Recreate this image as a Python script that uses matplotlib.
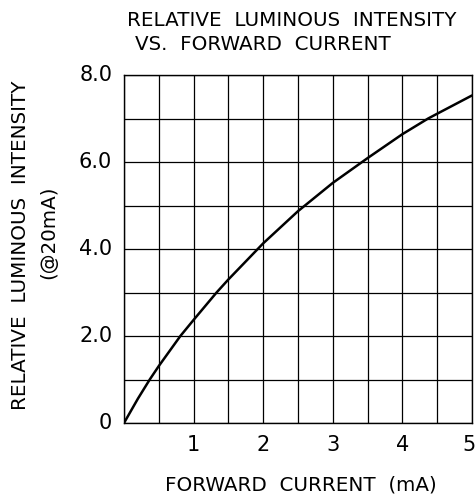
import matplotlib
matplotlib.use("Agg")
import matplotlib.pyplot as plt
import numpy as np

# data
current_mA = [0, 0.2, 0.37, 0.5, 0.81, 1.0, 1.33, 1.5, 2.0, 2.5, 3.0, 3.5, 4.0, 4.37, 4.5, 5.0]
rel_intensity = [0, 0.56, 1.0, 1.31, 2.0, 2.37, 3.0, 3.30, 4.13, 4.87, 5.52, 6.09, 6.64, 7.0, 7.11, 7.53]

x_ticks = [1, 2, 3, 4, 5]
x_tick_labels = ["1", "2", "3", "4", "5"]
y_ticks = [0, 2, 4, 6, 8]
y_tick_labels = ["0", "2.0", "4.0", "6.0", "8.0"]

W, H = 477, 500
fig = plt.figure(figsize=(W / 100, H / 100), dpi=100)
ax = fig.add_axes([124 / W, (H - 423) / H, (472 - 124) / W, (423 - 75) / H])

ax.plot(current_mA, rel_intensity, color="black", lw=1.8, solid_capstyle="round",
        solid_joinstyle="round")
ax.set_xlim(0, 5)
ax.set_ylim(0, 8)
ax.set_xticks(np.arange(0, 5.01, 0.5))
ax.set_yticks(np.arange(0, 8.01, 1.0))
ax.grid(True, color="black", lw=0.9)
ax.tick_params(length=0, labelleft=False, labelbottom=False)
for s in ax.spines.values():
    s.set_linewidth(1.0)
    s.set_color("black")

fam = "DejaVu Sans"
fs = 14.3
tfs = 15
def px(x, y):
    return x / W, 1 - y / H

for t, lab in zip(x_ticks, x_tick_labels):
    xpos = min(t, 4.96)  # keep the last label inside the canvas
    ax.text(xpos, -0.5, lab, ha="center", va="center", fontsize=tfs, family=fam)
for t, lab in zip(y_ticks, y_tick_labels):
    ax.text(-0.17, t, lab, ha="right", va="center", fontsize=tfs, family=fam)

fig.text(*px(127, 20), "RELATIVE  LUMINOUS  INTENSITY", ha="left", va="center", fontsize=fs, family=fam)
fig.text(*px(135, 44), "VS.  FORWARD  CURRENT", ha="left", va="center", fontsize=fs, family=fam)
fig.text(*px(301, 485), "FORWARD  CURRENT  (mA)", ha="center", va="center", fontsize=fs, family=fam)
fig.text(*px(21, 245), "RELATIVE  LUMINOUS  INTENSITY", ha="center", va="center", rotation=90, fontsize=fs, family=fam)
fig.text(*px(49, 232), "(@20mA)", ha="center", va="center", rotation=90, fontsize=fs, family=fam)

fig.savefig("out.png", dpi=100)
